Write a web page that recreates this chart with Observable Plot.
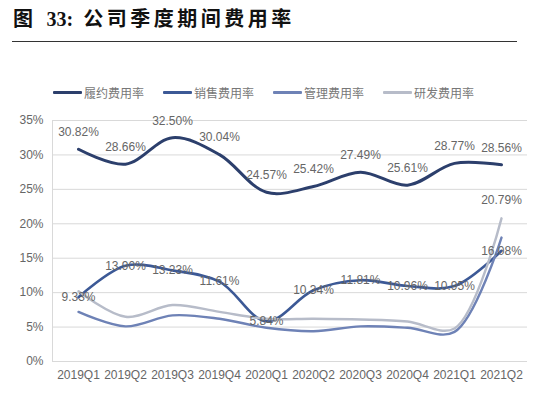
<!DOCTYPE html>
<html>
<head>
<meta charset="utf-8">
<script src="https://cdn.jsdelivr.net/npm/d3@7"></script>
<script src="https://cdn.jsdelivr.net/npm/@observablehq/plot@0.6"></script>
<style>
  html, body { margin: 0; padding: 0; background: #fff; }
  body { width: 550px; height: 399px; position: relative; overflow: hidden; font-family: "Liberation Sans", Arial, "Noto Sans CJK SC", sans-serif; }
  #title { position: absolute; left: 13px; top: 3px; font-family: "Liberation Serif", "Noto Sans CJK SC", serif; font-weight: bold; font-size: 20px; color: #111; white-space: nowrap; }
  #title .cjk { letter-spacing: 3.5px; }
  #rule { position: absolute; left: 12px; top: 41px; width: 505px; height: 0; border-top: 1.3px solid #333; }
  #legend { position: absolute; top: 84px; left: 0; width: 550px; height: 18px; }
  .item { position: absolute; top: 0; display: flex; align-items: center; font-size: 12px; color: #777; font-family: "Noto Sans CJK SC", sans-serif; white-space: nowrap; }
  .sw { display: inline-block; width: 29px; height: 3px; margin-right: 2px; border-radius: 1px; }
  #chart { position: absolute; left: 0; top: 100px; }
</style>
</head>
<body>
<div id="title"><span class="cjk">图</span>&nbsp;&nbsp;33:&nbsp;&nbsp;<span class="cjk">公司季度期间费用率</span></div>
<div id="rule"></div>
<div id="legend"></div>
<div id="chart"></div>
<script>
const quarters = ["2019Q1","2019Q2","2019Q3","2019Q4","2020Q1","2020Q2","2020Q3","2020Q4","2021Q1","2021Q2"];
const seriesNames = ["履约费用率","销售费用率","管理费用率","研发费用率"];
const lvyue   = [30.82, 28.66, 32.50, 30.04, 24.57, 25.42, 27.49, 25.61, 28.77, 28.56];
const xiaoshou = [9.33, 13.90, 13.23, 11.61, 5.84, 10.34, 11.81, 10.96, 10.95, 16.08];
const guanli  = [7.2, 5.1, 6.7, 6.2, 4.9, 4.4, 5.1, 4.9, 4.3, 18.0];
const yanfa   = [10.2, 6.5, 8.2, 7.2, 6.2, 6.2, 6.1, 5.8, 4.8, 20.79];
const yTicks = [0, 5, 10, 15, 20, 25, 30, 35];
const colors = ["#2c3f6c", "#3c5996", "#6e82b6", "#b7bcc9"];
const widths = [3, 2.6, 2.4, 2.4];
const legendX = [53, 163, 273, 383];

const allValues = [lvyue, xiaoshou, guanli, yanfa];
const rows = [];
allValues.forEach((vals, s) => vals.forEach((v, i) => rows.push({series: seriesNames[s], q: quarters[i], v})));

// legend
const leg = document.getElementById("legend");
seriesNames.forEach((n, i) => {
  const d = document.createElement("div");
  d.className = "item";
  d.style.left = legendX[i] + "px";
  d.innerHTML = `<span class="sw" style="background:${colors[i]}"></span><span>${n}</span>`;
  leg.appendChild(d);
});

const lvyueRows = rows.filter(r => r.series === seriesNames[0]);
const salesRows = rows.filter(r => r.series === seriesNames[1]);
const yanfaLast = rows.filter(r => r.series === seriesNames[3]).slice(-1);

const plot = Plot.plot({
  width: 550,
  height: 299,
  marginLeft: 52,
  marginRight: 23,
  marginTop: 20,
  marginBottom: 38,
  style: { fontFamily: "Liberation Sans, Arial, sans-serif", fontSize: "12px", color: "#666", background: "white" },
  x: { type: "point", domain: quarters, padding: 0.5, label: null },
  y: { domain: [0, 35], label: null },
  color: { domain: seriesNames, range: colors },
  marks: [
    Plot.ruleY(yTicks, { stroke: "#d9d9d9", strokeWidth: 1 }),
    Plot.frame({ anchor: "left", stroke: "#d9d9d9" }),
    Plot.axisY(yTicks, { tickSize: 0, tickPadding: 9, tickFormat: d => d + "%", fill: "#666", fontSize: 12 }),
    Plot.axisX({ tickSize: 0, tickPadding: 9, fill: "#666", fontSize: 12 }),
    ...seriesNames.map((n, s) => Plot.line(rows.filter(r => r.series === n), {
      x: "q", y: "v", stroke: colors[s], strokeWidth: widths[s], curve: "catmull-rom"
    })),
    Plot.text(lvyueRows, { x: "q", y: "v", text: d => d.v.toFixed(2) + "%", dy: -17, fill: "#666", fontSize: 12 }),
    Plot.text(salesRows, { x: "q", y: "v", text: d => d.v.toFixed(2) + "%", dy: 0, fill: "#666", fontSize: 12 }),
    Plot.text(yanfaLast, { x: "q", y: "v", text: d => d.v.toFixed(2) + "%", dy: -18, fill: "#666", fontSize: 12 })
  ]
});
document.getElementById("chart").appendChild(plot);
</script>
</body>
</html>
